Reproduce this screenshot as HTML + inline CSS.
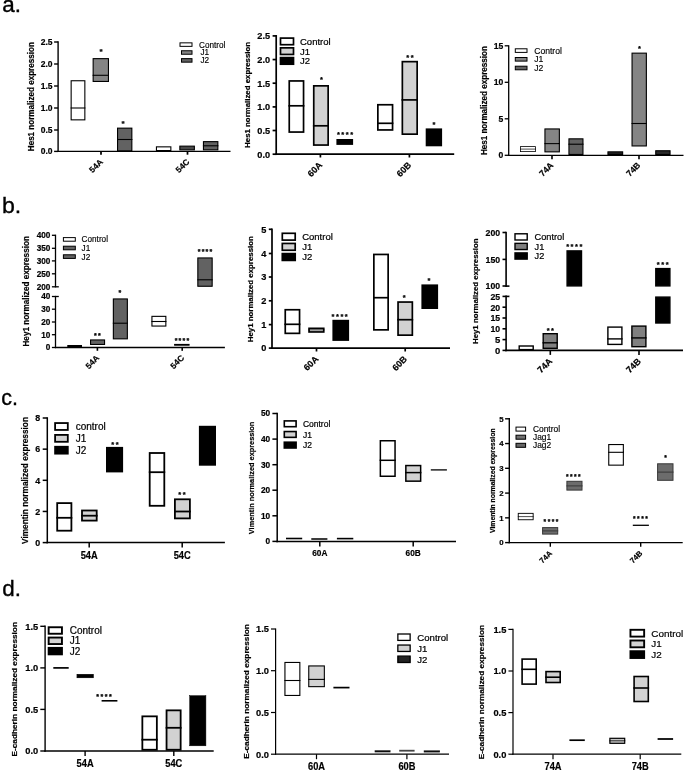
<!DOCTYPE html>
<html>
<head>
<meta charset="utf-8">
<title>Figure</title>
<style>
html, body { margin: 0; padding: 0; background: #fff; }
body { width: 685px; height: 771px; overflow: hidden; font-family: "Liberation Sans", sans-serif; }
svg text { font-family: "Liberation Sans", sans-serif; }
</style>
</head>
<body>
<svg width="685" height="771" viewBox="0 0 685 771" font-family="'Liberation Sans', sans-serif" style="display:block">
<defs><filter id="bl" x="0" y="0" width="100%" height="100%" filterUnits="userSpaceOnUse"><feGaussianBlur stdDeviation="0.65"/></filter></defs>
<rect x="0" y="0" width="685" height="771" fill="#fff"/>
<g filter="url(#bl)">
<line x1="58.1" y1="41.3" x2="58.1" y2="152.1" stroke="#000" stroke-width="1.4"/>
<line x1="57.4" y1="151.4" x2="230.5" y2="151.4" stroke="#000" stroke-width="1.4"/>
<line x1="54.1" y1="42" x2="58.1" y2="42" stroke="#000" stroke-width="1.4"/>
<text x="52.6" y="45.06" font-size="8.5" text-anchor="end" fill="#000" stroke="#000" stroke-width="0.2" font-weight="bold">2.5</text>
<line x1="54.1" y1="64" x2="58.1" y2="64" stroke="#000" stroke-width="1.4"/>
<text x="52.6" y="67.06" font-size="8.5" text-anchor="end" fill="#000" stroke="#000" stroke-width="0.2" font-weight="bold">2.0</text>
<line x1="54.1" y1="86" x2="58.1" y2="86" stroke="#000" stroke-width="1.4"/>
<text x="52.6" y="89.06" font-size="8.5" text-anchor="end" fill="#000" stroke="#000" stroke-width="0.2" font-weight="bold">1.5</text>
<line x1="54.1" y1="108" x2="58.1" y2="108" stroke="#000" stroke-width="1.4"/>
<text x="52.6" y="111.06" font-size="8.5" text-anchor="end" fill="#000" stroke="#000" stroke-width="0.2" font-weight="bold">1.0</text>
<line x1="54.1" y1="130" x2="58.1" y2="130" stroke="#000" stroke-width="1.4"/>
<text x="52.6" y="133.06" font-size="8.5" text-anchor="end" fill="#000" stroke="#000" stroke-width="0.2" font-weight="bold">0.5</text>
<line x1="54.1" y1="151.4" x2="58.1" y2="151.4" stroke="#000" stroke-width="1.4"/>
<text x="52.6" y="154.46" font-size="8.5" text-anchor="end" fill="#000" stroke="#000" stroke-width="0.2" font-weight="bold">0.0</text>
<line x1="101" y1="151.4" x2="101" y2="154.7" stroke="#000" stroke-width="1.75"/>
<text x="103.5" y="162.4" font-size="8.4" text-anchor="end" fill="#000" stroke="#000" stroke-width="0.2" font-weight="bold" transform="rotate(-45 103.5 162.4)">54A</text>
<line x1="187.5" y1="151.4" x2="187.5" y2="154.7" stroke="#000" stroke-width="1.75"/>
<text x="190" y="162.4" font-size="8.4" text-anchor="end" fill="#000" stroke="#000" stroke-width="0.2" font-weight="bold" transform="rotate(-45 190 162.4)">54C</text>
<text x="34.3" y="96.7" font-size="8.6" text-anchor="middle" fill="#000" stroke="#000" stroke-width="0.2" font-weight="bold" transform="rotate(-90 34.3 96.7)" textLength="109" lengthAdjust="spacingAndGlyphs">Hes1 normalized expression</text>
<rect x="71.15" y="80.75" width="13.7" height="39.1" fill="#fff" stroke="#000" stroke-width="1.1"/>
<line x1="70.6" y1="108" x2="85.4" y2="108" stroke="#000" stroke-width="1.1"/>
<rect x="93.15" y="58.65" width="15.3" height="22.8" fill="#858585" stroke="#000" stroke-width="1.1"/>
<line x1="92.6" y1="75.3" x2="109" y2="75.3" stroke="#000" stroke-width="1.1"/>
<rect x="117.55" y="128.15" width="14.3" height="22.7" fill="#626262" stroke="#000" stroke-width="1.1"/>
<line x1="117" y1="139.5" x2="132.4" y2="139.5" stroke="#000" stroke-width="1.1"/>
<rect x="156.45" y="146.85" width="14.4" height="3.7" fill="#fff" stroke="#000" stroke-width="1.1"/>
<rect x="179.85" y="146.15" width="14.5" height="3.7" fill="#4a4a4a" stroke="#000" stroke-width="1.1"/>
<rect x="203.45" y="141.65" width="14.4" height="8.2" fill="#626262" stroke="#000" stroke-width="1.1"/>
<line x1="202.9" y1="145.8" x2="218.4" y2="145.8" stroke="#000" stroke-width="1.1"/>
<rect x="180" y="42.85" width="12" height="3.5" fill="#fff" stroke="#000" stroke-width="1"/>
<text x="199" y="47.55" font-size="8.2" text-anchor="start" fill="#000" stroke="#000" stroke-width="0.15">Control</text>
<rect x="181.5" y="50.75" width="10.5" height="3.5" fill="#858585" stroke="#000" stroke-width="1"/>
<text x="200.5" y="55.45" font-size="8.2" text-anchor="start" fill="#000" stroke="#000" stroke-width="0.15">J1</text>
<rect x="181.5" y="58.65" width="10.5" height="3.5" fill="#626262" stroke="#000" stroke-width="1"/>
<text x="200.5" y="63.35" font-size="8.2" text-anchor="start" fill="#000" stroke="#000" stroke-width="0.15">J2</text>
<text x="101" y="54.44" font-size="8" text-anchor="middle" fill="#000" stroke="#000" stroke-width="0.25" font-weight="bold">*</text>
<text x="123" y="126.44" font-size="8" text-anchor="middle" fill="#000" stroke="#000" stroke-width="0.25" font-weight="bold">*</text>
<line x1="276.2" y1="35.05" x2="276.2" y2="155.05" stroke="#000" stroke-width="1.7"/>
<line x1="275.35" y1="154.2" x2="454.2" y2="154.2" stroke="#000" stroke-width="1.7"/>
<line x1="272.6" y1="35.9" x2="276.2" y2="35.9" stroke="#000" stroke-width="1.7"/>
<text x="270.1" y="39.21" font-size="9.2" text-anchor="end" fill="#000" stroke="#000" stroke-width="0.2" font-weight="bold">2.5</text>
<line x1="272.6" y1="59.56" x2="276.2" y2="59.56" stroke="#000" stroke-width="1.7"/>
<text x="270.1" y="62.87" font-size="9.2" text-anchor="end" fill="#000" stroke="#000" stroke-width="0.2" font-weight="bold">2.0</text>
<line x1="272.6" y1="83.2" x2="276.2" y2="83.2" stroke="#000" stroke-width="1.7"/>
<text x="270.1" y="86.51" font-size="9.2" text-anchor="end" fill="#000" stroke="#000" stroke-width="0.2" font-weight="bold">1.5</text>
<line x1="272.6" y1="106.9" x2="276.2" y2="106.9" stroke="#000" stroke-width="1.7"/>
<text x="270.1" y="110.21" font-size="9.2" text-anchor="end" fill="#000" stroke="#000" stroke-width="0.2" font-weight="bold">1.0</text>
<line x1="272.6" y1="130.5" x2="276.2" y2="130.5" stroke="#000" stroke-width="1.7"/>
<text x="270.1" y="133.81" font-size="9.2" text-anchor="end" fill="#000" stroke="#000" stroke-width="0.2" font-weight="bold">0.5</text>
<line x1="272.6" y1="154.2" x2="276.2" y2="154.2" stroke="#000" stroke-width="1.7"/>
<text x="270.1" y="157.51" font-size="9.2" text-anchor="end" fill="#000" stroke="#000" stroke-width="0.2" font-weight="bold">0.0</text>
<line x1="320.4" y1="154.2" x2="320.4" y2="157.5" stroke="#000" stroke-width="1.7"/>
<text x="322.9" y="165.7" font-size="9" text-anchor="end" fill="#000" stroke="#000" stroke-width="0.2" font-weight="bold" transform="rotate(-45 322.9 165.7)">60A</text>
<line x1="409.4" y1="154.2" x2="409.4" y2="157.5" stroke="#000" stroke-width="1.7"/>
<text x="411.9" y="165.7" font-size="9" text-anchor="end" fill="#000" stroke="#000" stroke-width="0.2" font-weight="bold" transform="rotate(-45 411.9 165.7)">60B</text>
<text x="250" y="94.9" font-size="8" text-anchor="middle" fill="#000" stroke="#000" stroke-width="0.2" font-weight="bold" transform="rotate(-90 250 94.9)" textLength="106" lengthAdjust="spacingAndGlyphs">Hes1 normalized expression</text>
<rect x="289.25" y="80.95" width="14.3" height="51.1" fill="#fff" stroke="#000" stroke-width="1.7"/>
<line x1="288.4" y1="105.8" x2="304.4" y2="105.8" stroke="#000" stroke-width="1.7"/>
<rect x="313.75" y="85.85" width="14.4" height="59.2" fill="#d2d2d2" stroke="#000" stroke-width="1.7"/>
<line x1="312.9" y1="125.8" x2="329" y2="125.8" stroke="#000" stroke-width="1.7"/>
<rect x="337.25" y="139.85" width="15" height="4.2" fill="#000" stroke="#000" stroke-width="1.7"/>
<rect x="377.85" y="104.75" width="14.7" height="25.2" fill="#fff" stroke="#000" stroke-width="1.7"/>
<line x1="377" y1="123.3" x2="393.4" y2="123.3" stroke="#000" stroke-width="1.7"/>
<rect x="402.35" y="61.65" width="14.8" height="72.5" fill="#d2d2d2" stroke="#000" stroke-width="1.7"/>
<line x1="401.5" y1="99.9" x2="418" y2="99.9" stroke="#000" stroke-width="1.7"/>
<rect x="426.55" y="129.25" width="14.7" height="16.2" fill="#000" stroke="#000" stroke-width="1.7"/>
<rect x="280.5" y="38.1" width="13" height="6.6" fill="#fff" stroke="#000" stroke-width="1.7"/>
<text x="300" y="44.82" font-size="9.5" text-anchor="start" fill="#000" stroke="#000" stroke-width="0.22">Control</text>
<rect x="280.5" y="47.85" width="13" height="6.6" fill="#d2d2d2" stroke="#000" stroke-width="1.7"/>
<text x="300" y="54.57" font-size="9.5" text-anchor="start" fill="#000" stroke="#000" stroke-width="0.22">J1</text>
<rect x="280.5" y="57.6" width="13" height="6.6" fill="#000" stroke="#000" stroke-width="1.7"/>
<text x="300" y="64.32" font-size="9.5" text-anchor="start" fill="#000" stroke="#000" stroke-width="0.22">J2</text>
<text x="322.15" y="82.02" font-size="7.5" text-anchor="middle" fill="#000" stroke="#000" stroke-width="0.25" font-weight="bold" letter-spacing="1.5">*</text>
<text x="345.75" y="136.72" font-size="7.5" text-anchor="middle" fill="#000" stroke="#000" stroke-width="0.25" font-weight="bold" letter-spacing="1.5">****</text>
<text x="410.75" y="60.23" font-size="7.5" text-anchor="middle" fill="#000" stroke="#000" stroke-width="0.25" font-weight="bold" letter-spacing="1.5">**</text>
<text x="434.75" y="127.22" font-size="7.5" text-anchor="middle" fill="#000" stroke="#000" stroke-width="0.25" font-weight="bold" letter-spacing="1.5">*</text>
<line x1="508.7" y1="45.15" x2="508.7" y2="155.95" stroke="#000" stroke-width="1.3"/>
<line x1="508.05" y1="155.3" x2="683.5" y2="155.3" stroke="#000" stroke-width="1.3"/>
<line x1="504.7" y1="45.8" x2="508.7" y2="45.8" stroke="#000" stroke-width="1.3"/>
<text x="503.2" y="48.9" font-size="8.6" text-anchor="end" fill="#000" stroke="#000" stroke-width="0.2" font-weight="bold">15</text>
<line x1="504.7" y1="82.3" x2="508.7" y2="82.3" stroke="#000" stroke-width="1.3"/>
<text x="503.2" y="85.4" font-size="8.6" text-anchor="end" fill="#000" stroke="#000" stroke-width="0.2" font-weight="bold">10</text>
<line x1="504.7" y1="118.8" x2="508.7" y2="118.8" stroke="#000" stroke-width="1.3"/>
<text x="503.2" y="121.9" font-size="8.6" text-anchor="end" fill="#000" stroke="#000" stroke-width="0.2" font-weight="bold">5</text>
<line x1="504.7" y1="155.3" x2="508.7" y2="155.3" stroke="#000" stroke-width="1.3"/>
<text x="503.2" y="158.4" font-size="8.6" text-anchor="end" fill="#000" stroke="#000" stroke-width="0.2" font-weight="bold">0</text>
<line x1="552" y1="155.3" x2="552" y2="159.3" stroke="#000" stroke-width="1.62"/>
<text x="554" y="165.8" font-size="8.6" text-anchor="end" fill="#000" stroke="#000" stroke-width="0.2" font-weight="bold" transform="rotate(-45 554 165.8)">74A</text>
<line x1="639" y1="155.3" x2="639" y2="159.3" stroke="#000" stroke-width="1.62"/>
<text x="641" y="165.8" font-size="8.6" text-anchor="end" fill="#000" stroke="#000" stroke-width="0.2" font-weight="bold" transform="rotate(-45 641 165.8)">74B</text>
<text x="486.8" y="100.6" font-size="8.8" text-anchor="middle" fill="#000" stroke="#000" stroke-width="0.2" font-weight="bold" transform="rotate(-90 486.8 100.6)" textLength="109" lengthAdjust="spacingAndGlyphs">Hes1 normalized expression</text>
<rect x="520.5" y="146.6" width="15" height="5" fill="#fff" stroke="#000" stroke-width="0.8"/>
<line x1="520.1" y1="149.1" x2="535.9" y2="149.1" stroke="#000" stroke-width="0.7"/>
<rect x="544.95" y="128.95" width="14.4" height="22.9" fill="#858585" stroke="#000" stroke-width="1.1"/>
<line x1="544.4" y1="143.6" x2="559.9" y2="143.6" stroke="#000" stroke-width="1.1"/>
<rect x="568.95" y="138.85" width="14" height="15.6" fill="#626262" stroke="#000" stroke-width="1.1"/>
<line x1="568.4" y1="144.2" x2="583.5" y2="144.2" stroke="#000" stroke-width="1.1"/>
<rect x="607.95" y="151.85" width="14.7" height="2.6" fill="#222" stroke="#000" stroke-width="1.1"/>
<rect x="632.05" y="53.15" width="14.3" height="92.8" fill="#858585" stroke="#000" stroke-width="1.1"/>
<line x1="631.5" y1="123.5" x2="646.9" y2="123.5" stroke="#000" stroke-width="1.1"/>
<rect x="655.75" y="150.75" width="14.3" height="3.7" fill="#2a2a2a" stroke="#000" stroke-width="1.1"/>
<rect x="515.3" y="48.8" width="11.7" height="3.6" fill="#fff" stroke="#000" stroke-width="1"/>
<text x="534.2" y="53.7" font-size="8.6" text-anchor="start" fill="#000" stroke="#000" stroke-width="0.15">Control</text>
<rect x="515.3" y="57.5" width="11.7" height="3.6" fill="#858585" stroke="#000" stroke-width="1"/>
<text x="534.2" y="62.4" font-size="8.6" text-anchor="start" fill="#000" stroke="#000" stroke-width="0.15">J1</text>
<rect x="515.3" y="66.2" width="11.7" height="3.6" fill="#626262" stroke="#000" stroke-width="1"/>
<text x="534.2" y="71.1" font-size="8.6" text-anchor="start" fill="#000" stroke="#000" stroke-width="0.15">J2</text>
<text x="639.4" y="50.73" font-size="7.5" text-anchor="middle" fill="#000" stroke="#000" stroke-width="0.25" font-weight="bold">*</text>
<line x1="55.5" y1="234.65" x2="55.5" y2="287.45" stroke="#000" stroke-width="1.3"/>
<line x1="55.5" y1="295.85" x2="55.5" y2="348.15" stroke="#000" stroke-width="1.3"/>
<line x1="55.5" y1="286.8" x2="58.8" y2="286.8" stroke="#000" stroke-width="1.3"/>
<line x1="55.5" y1="296.5" x2="58.8" y2="296.5" stroke="#000" stroke-width="1.3"/>
<line x1="54.85" y1="347.5" x2="224.9" y2="347.5" stroke="#000" stroke-width="1.3"/>
<line x1="51.9" y1="235.3" x2="55.5" y2="235.3" stroke="#000" stroke-width="1.3"/>
<text x="50.4" y="238.25" font-size="8.2" text-anchor="end" fill="#000" stroke="#000" stroke-width="0.2" font-weight="bold">400</text>
<line x1="51.9" y1="248.3" x2="55.5" y2="248.3" stroke="#000" stroke-width="1.3"/>
<text x="50.4" y="251.25" font-size="8.2" text-anchor="end" fill="#000" stroke="#000" stroke-width="0.2" font-weight="bold">350</text>
<line x1="51.9" y1="260.9" x2="55.5" y2="260.9" stroke="#000" stroke-width="1.3"/>
<text x="50.4" y="263.85" font-size="8.2" text-anchor="end" fill="#000" stroke="#000" stroke-width="0.2" font-weight="bold">300</text>
<line x1="51.9" y1="273.8" x2="55.5" y2="273.8" stroke="#000" stroke-width="1.3"/>
<text x="50.4" y="276.75" font-size="8.2" text-anchor="end" fill="#000" stroke="#000" stroke-width="0.2" font-weight="bold">250</text>
<line x1="51.9" y1="286.8" x2="55.5" y2="286.8" stroke="#000" stroke-width="1.3"/>
<text x="50.4" y="289.75" font-size="8.2" text-anchor="end" fill="#000" stroke="#000" stroke-width="0.2" font-weight="bold">200</text>
<line x1="51.9" y1="296.5" x2="55.5" y2="296.5" stroke="#000" stroke-width="1.3"/>
<text x="50.4" y="299.45" font-size="8.2" text-anchor="end" fill="#000" stroke="#000" stroke-width="0.2" font-weight="bold">40</text>
<line x1="51.9" y1="309.2" x2="55.5" y2="309.2" stroke="#000" stroke-width="1.3"/>
<text x="50.4" y="312.15" font-size="8.2" text-anchor="end" fill="#000" stroke="#000" stroke-width="0.2" font-weight="bold">30</text>
<line x1="51.9" y1="322" x2="55.5" y2="322" stroke="#000" stroke-width="1.3"/>
<text x="50.4" y="324.95" font-size="8.2" text-anchor="end" fill="#000" stroke="#000" stroke-width="0.2" font-weight="bold">20</text>
<line x1="51.9" y1="334.7" x2="55.5" y2="334.7" stroke="#000" stroke-width="1.3"/>
<text x="50.4" y="337.65" font-size="8.2" text-anchor="end" fill="#000" stroke="#000" stroke-width="0.2" font-weight="bold">10</text>
<line x1="51.9" y1="347.5" x2="55.5" y2="347.5" stroke="#000" stroke-width="1.3"/>
<text x="50.4" y="350.45" font-size="8.2" text-anchor="end" fill="#000" stroke="#000" stroke-width="0.2" font-weight="bold">0</text>
<line x1="97.4" y1="347.5" x2="97.4" y2="350.8" stroke="#000" stroke-width="1.62"/>
<text x="99.9" y="358.5" font-size="8.4" text-anchor="end" fill="#000" stroke="#000" stroke-width="0.2" font-weight="bold" transform="rotate(-45 99.9 358.5)">54A</text>
<line x1="182.2" y1="347.5" x2="182.2" y2="350.8" stroke="#000" stroke-width="1.62"/>
<text x="184.7" y="358.5" font-size="8.4" text-anchor="end" fill="#000" stroke="#000" stroke-width="0.2" font-weight="bold" transform="rotate(-45 184.7 358.5)">54C</text>
<text x="29" y="291.3" font-size="8.4" text-anchor="middle" fill="#000" stroke="#000" stroke-width="0.2" font-weight="bold" transform="rotate(-90 29 291.3)" textLength="110.5" lengthAdjust="spacingAndGlyphs">Hey1 normalized expression</text>
<rect x="67.85" y="345.55" width="13.6" height="0.9" fill="#000" stroke="#000" stroke-width="1.1"/>
<rect x="90.55" y="339.95" width="14" height="4.5" fill="#626262" stroke="#000" stroke-width="1.1"/>
<rect x="113.35" y="298.95" width="14" height="39.9" fill="#626262" stroke="#000" stroke-width="1.1"/>
<line x1="112.8" y1="323.2" x2="127.9" y2="323.2" stroke="#000" stroke-width="1.1"/>
<rect x="151.95" y="316.35" width="13.9" height="9.7" fill="#fff" stroke="#000" stroke-width="1.1"/>
<line x1="151.4" y1="321.5" x2="166.4" y2="321.5" stroke="#000" stroke-width="1.1"/>
<rect x="174.65" y="344.45" width="14.4" height="0.7" fill="#000" stroke="#000" stroke-width="1.1"/>
<rect x="197.85" y="257.95" width="14.3" height="28.3" fill="#626262" stroke="#000" stroke-width="1.1"/>
<line x1="197.3" y1="279.8" x2="212.7" y2="279.8" stroke="#000" stroke-width="1.1"/>
<rect x="63.4" y="237.6" width="11.9" height="3.6" fill="#fff" stroke="#000" stroke-width="1"/>
<text x="81.6" y="242.35" font-size="8.2" text-anchor="start" fill="#000" stroke="#000" stroke-width="0.15">Control</text>
<rect x="63.4" y="246.2" width="11.9" height="3.6" fill="#626262" stroke="#000" stroke-width="1"/>
<text x="81.6" y="250.95" font-size="8.2" text-anchor="start" fill="#000" stroke="#000" stroke-width="0.15">J1</text>
<rect x="63.4" y="254.8" width="11.9" height="3.6" fill="#626262" stroke="#000" stroke-width="1"/>
<text x="81.6" y="259.55" font-size="8.2" text-anchor="start" fill="#000" stroke="#000" stroke-width="0.15">J2</text>
<text x="98" y="337.81" font-size="7" text-anchor="middle" fill="#000" stroke="#000" stroke-width="0.25" font-weight="bold" letter-spacing="1.2">**</text>
<text x="120.4" y="295.41" font-size="7" text-anchor="middle" fill="#000" stroke="#000" stroke-width="0.25" font-weight="bold" letter-spacing="1.2">*</text>
<text x="182.5" y="343.41" font-size="7" text-anchor="middle" fill="#000" stroke="#000" stroke-width="0.25" font-weight="bold" letter-spacing="1.2">****</text>
<text x="205.6" y="254.01" font-size="7" text-anchor="middle" fill="#000" stroke="#000" stroke-width="0.25" font-weight="bold" letter-spacing="1.2">****</text>
<line x1="272" y1="228.45" x2="272" y2="349.05" stroke="#000" stroke-width="1.7"/>
<line x1="271.15" y1="348.2" x2="450" y2="348.2" stroke="#000" stroke-width="1.7"/>
<line x1="268.8" y1="229.3" x2="272" y2="229.3" stroke="#000" stroke-width="1.7"/>
<text x="266.3" y="232.61" font-size="9.2" text-anchor="end" fill="#000" stroke="#000" stroke-width="0.2" font-weight="bold">5</text>
<line x1="268.8" y1="253.5" x2="272" y2="253.5" stroke="#000" stroke-width="1.7"/>
<text x="266.3" y="256.81" font-size="9.2" text-anchor="end" fill="#000" stroke="#000" stroke-width="0.2" font-weight="bold">4</text>
<line x1="268.8" y1="277" x2="272" y2="277" stroke="#000" stroke-width="1.7"/>
<text x="266.3" y="280.31" font-size="9.2" text-anchor="end" fill="#000" stroke="#000" stroke-width="0.2" font-weight="bold">3</text>
<line x1="268.8" y1="300.8" x2="272" y2="300.8" stroke="#000" stroke-width="1.7"/>
<text x="266.3" y="304.11" font-size="9.2" text-anchor="end" fill="#000" stroke="#000" stroke-width="0.2" font-weight="bold">2</text>
<line x1="268.8" y1="324.6" x2="272" y2="324.6" stroke="#000" stroke-width="1.7"/>
<text x="266.3" y="327.91" font-size="9.2" text-anchor="end" fill="#000" stroke="#000" stroke-width="0.2" font-weight="bold">1</text>
<line x1="268.8" y1="348.1" x2="272" y2="348.1" stroke="#000" stroke-width="1.7"/>
<text x="266.3" y="351.41" font-size="9.2" text-anchor="end" fill="#000" stroke="#000" stroke-width="0.2" font-weight="bold">0</text>
<line x1="316.5" y1="348.2" x2="316.5" y2="351.5" stroke="#000" stroke-width="1.7"/>
<text x="319" y="359.7" font-size="9" text-anchor="end" fill="#000" stroke="#000" stroke-width="0.2" font-weight="bold" transform="rotate(-45 319 359.7)">60A</text>
<line x1="405.2" y1="348.2" x2="405.2" y2="351.5" stroke="#000" stroke-width="1.7"/>
<text x="407.7" y="359.7" font-size="9" text-anchor="end" fill="#000" stroke="#000" stroke-width="0.2" font-weight="bold" transform="rotate(-45 407.7 359.7)">60B</text>
<text x="253.1" y="289.2" font-size="8" text-anchor="middle" fill="#000" stroke="#000" stroke-width="0.2" font-weight="bold" transform="rotate(-90 253.1 289.2)" textLength="106" lengthAdjust="spacingAndGlyphs">Hey1 normalized expression</text>
<rect x="285.25" y="309.75" width="14.3" height="23.6" fill="#fff" stroke="#000" stroke-width="1.7"/>
<line x1="284.4" y1="324.3" x2="300.4" y2="324.3" stroke="#000" stroke-width="1.7"/>
<rect x="309.05" y="328.35" width="14.7" height="3.6" fill="#d2d2d2" stroke="#000" stroke-width="1.7"/>
<line x1="308.2" y1="329.9" x2="324.6" y2="329.9" stroke="#000" stroke-width="0.6"/>
<rect x="333.25" y="320.65" width="15" height="19.4" fill="#000" stroke="#000" stroke-width="1.7"/>
<rect x="373.85" y="254.45" width="14.3" height="75.4" fill="#fff" stroke="#000" stroke-width="1.7"/>
<line x1="373" y1="297.7" x2="389" y2="297.7" stroke="#000" stroke-width="1.7"/>
<rect x="398.05" y="302.05" width="14.3" height="33.1" fill="#d2d2d2" stroke="#000" stroke-width="1.7"/>
<line x1="397.2" y1="319.7" x2="413.2" y2="319.7" stroke="#000" stroke-width="1.7"/>
<rect x="422.25" y="285.25" width="15" height="22.9" fill="#000" stroke="#000" stroke-width="1.7"/>
<rect x="282.3" y="233.3" width="12.9" height="6.8" fill="#fff" stroke="#000" stroke-width="1.7"/>
<text x="302.2" y="240.12" font-size="9.5" text-anchor="start" fill="#000" stroke="#000" stroke-width="0.22">Control</text>
<rect x="282.3" y="243.45" width="12.9" height="6.8" fill="#d2d2d2" stroke="#000" stroke-width="1.7"/>
<text x="302.2" y="250.27" font-size="9.5" text-anchor="start" fill="#000" stroke="#000" stroke-width="0.22">J1</text>
<rect x="282.3" y="253.6" width="12.9" height="6.8" fill="#000" stroke="#000" stroke-width="1.7"/>
<text x="302.2" y="260.42" font-size="9.5" text-anchor="start" fill="#000" stroke="#000" stroke-width="0.22">J2</text>
<text x="340.45" y="318.73" font-size="7.5" text-anchor="middle" fill="#000" stroke="#000" stroke-width="0.25" font-weight="bold" letter-spacing="1.5">****</text>
<text x="404.85" y="299.53" font-size="7.5" text-anchor="middle" fill="#000" stroke="#000" stroke-width="0.25" font-weight="bold" letter-spacing="1.5">*</text>
<text x="429.75" y="283.33" font-size="7.5" text-anchor="middle" fill="#000" stroke="#000" stroke-width="0.25" font-weight="bold" letter-spacing="1.5">*</text>
<line x1="506.1" y1="231.7" x2="506.1" y2="286.9" stroke="#000" stroke-width="1.6"/>
<line x1="506.1" y1="295.6" x2="506.1" y2="351.2" stroke="#000" stroke-width="1.6"/>
<line x1="506.1" y1="286.1" x2="509.4" y2="286.1" stroke="#000" stroke-width="1.6"/>
<line x1="506.1" y1="296.4" x2="509.4" y2="296.4" stroke="#000" stroke-width="1.6"/>
<line x1="505.3" y1="350.4" x2="683" y2="350.4" stroke="#000" stroke-width="1.6"/>
<line x1="502.5" y1="232.5" x2="506.1" y2="232.5" stroke="#000" stroke-width="1.6"/>
<text x="500.2" y="235.92" font-size="9.5" text-anchor="end" fill="#000" stroke="#000" stroke-width="0.2" font-weight="bold" textLength="14.58" lengthAdjust="spacingAndGlyphs">200</text>
<line x1="502.5" y1="259.4" x2="506.1" y2="259.4" stroke="#000" stroke-width="1.6"/>
<text x="500.2" y="262.82" font-size="9.5" text-anchor="end" fill="#000" stroke="#000" stroke-width="0.2" font-weight="bold" textLength="14.58" lengthAdjust="spacingAndGlyphs">150</text>
<line x1="502.5" y1="286" x2="506.1" y2="286" stroke="#000" stroke-width="1.6"/>
<text x="500.2" y="289.42" font-size="9.5" text-anchor="end" fill="#000" stroke="#000" stroke-width="0.2" font-weight="bold" textLength="14.58" lengthAdjust="spacingAndGlyphs">100</text>
<line x1="502.5" y1="296.4" x2="506.1" y2="296.4" stroke="#000" stroke-width="1.6"/>
<text x="500.2" y="299.82" font-size="9.5" text-anchor="end" fill="#000" stroke="#000" stroke-width="0.2" font-weight="bold" textLength="9.72" lengthAdjust="spacingAndGlyphs">25</text>
<line x1="502.5" y1="307.2" x2="506.1" y2="307.2" stroke="#000" stroke-width="1.6"/>
<text x="500.2" y="310.62" font-size="9.5" text-anchor="end" fill="#000" stroke="#000" stroke-width="0.2" font-weight="bold" textLength="9.72" lengthAdjust="spacingAndGlyphs">20</text>
<line x1="502.5" y1="318" x2="506.1" y2="318" stroke="#000" stroke-width="1.6"/>
<text x="500.2" y="321.42" font-size="9.5" text-anchor="end" fill="#000" stroke="#000" stroke-width="0.2" font-weight="bold" textLength="9.72" lengthAdjust="spacingAndGlyphs">15</text>
<line x1="502.5" y1="328.8" x2="506.1" y2="328.8" stroke="#000" stroke-width="1.6"/>
<text x="500.2" y="332.22" font-size="9.5" text-anchor="end" fill="#000" stroke="#000" stroke-width="0.2" font-weight="bold" textLength="9.72" lengthAdjust="spacingAndGlyphs">10</text>
<line x1="502.5" y1="339.6" x2="506.1" y2="339.6" stroke="#000" stroke-width="1.6"/>
<text x="500.2" y="343.02" font-size="9.5" text-anchor="end" fill="#000" stroke="#000" stroke-width="0.2" font-weight="bold">5</text>
<line x1="502.5" y1="350.4" x2="506.1" y2="350.4" stroke="#000" stroke-width="1.6"/>
<text x="500.2" y="353.82" font-size="9.5" text-anchor="end" fill="#000" stroke="#000" stroke-width="0.2" font-weight="bold">0</text>
<line x1="550.3" y1="350.4" x2="550.3" y2="354.9" stroke="#000" stroke-width="1.6"/>
<text x="552.8" y="361.9" font-size="9" text-anchor="end" fill="#000" stroke="#000" stroke-width="0.2" font-weight="bold" transform="rotate(-45 552.8 361.9)">74A</text>
<line x1="639" y1="350.4" x2="639" y2="354.9" stroke="#000" stroke-width="1.6"/>
<text x="641.5" y="361.9" font-size="9" text-anchor="end" fill="#000" stroke="#000" stroke-width="0.2" font-weight="bold" transform="rotate(-45 641.5 361.9)">74B</text>
<text x="478.1" y="291.2" font-size="7.9" text-anchor="middle" fill="#000" stroke="#000" stroke-width="0.2" font-weight="bold" transform="rotate(-90 478.1 291.2)" textLength="105.5" lengthAdjust="spacingAndGlyphs">Hey1 normalized expression</text>
<rect x="519.2" y="346" width="14" height="3.6" fill="#fff" stroke="#000" stroke-width="1.4"/>
<rect x="543.2" y="333.7" width="14" height="14.6" fill="#808080" stroke="#000" stroke-width="1.4"/>
<line x1="542.5" y1="342.8" x2="557.9" y2="342.8" stroke="#000" stroke-width="1.4"/>
<rect x="567.1" y="250.9" width="14.4" height="35" fill="#000" stroke="#000" stroke-width="1.4"/>
<rect x="607.9" y="327.1" width="14" height="17.3" fill="#fff" stroke="#000" stroke-width="1.4"/>
<line x1="607.2" y1="338.9" x2="622.6" y2="338.9" stroke="#000" stroke-width="1.4"/>
<rect x="631.9" y="326.1" width="14" height="20.6" fill="#808080" stroke="#000" stroke-width="1.4"/>
<line x1="631.2" y1="337.9" x2="646.6" y2="337.9" stroke="#000" stroke-width="1.4"/>
<rect x="655.8" y="268.6" width="14.1" height="17.3" fill="#000" stroke="#000" stroke-width="1.4"/>
<rect x="655.8" y="297.1" width="14.1" height="25.9" fill="#000" stroke="#000" stroke-width="1.4"/>
<rect x="515" y="233.8" width="12.2" height="6.2" fill="#fff" stroke="#000" stroke-width="1.4"/>
<text x="534.6" y="240.21" font-size="9.2" text-anchor="start" fill="#000" stroke="#000" stroke-width="0.22">Control</text>
<rect x="515" y="243.35" width="12.2" height="6.2" fill="#808080" stroke="#000" stroke-width="1.4"/>
<text x="534.6" y="249.76" font-size="9.2" text-anchor="start" fill="#000" stroke="#000" stroke-width="0.22">J1</text>
<rect x="515" y="252.9" width="12.2" height="6.2" fill="#000" stroke="#000" stroke-width="1.4"/>
<text x="534.6" y="259.31" font-size="9.2" text-anchor="start" fill="#000" stroke="#000" stroke-width="0.22">J2</text>
<text x="551.05" y="332.93" font-size="7.5" text-anchor="middle" fill="#000" stroke="#000" stroke-width="0.25" font-weight="bold" letter-spacing="1.5">**</text>
<text x="575.05" y="249.12" font-size="7.5" text-anchor="middle" fill="#000" stroke="#000" stroke-width="0.25" font-weight="bold" letter-spacing="1.5">****</text>
<text x="663.45" y="266.53" font-size="7.5" text-anchor="middle" fill="#000" stroke="#000" stroke-width="0.25" font-weight="bold" letter-spacing="1.5">***</text>
<line x1="47.3" y1="417.25" x2="47.3" y2="543.35" stroke="#000" stroke-width="1.5"/>
<line x1="46.55" y1="542.6" x2="224.9" y2="542.6" stroke="#000" stroke-width="1.5"/>
<line x1="42.7" y1="418" x2="47.3" y2="418" stroke="#000" stroke-width="1.5"/>
<text x="40.3" y="421.2" font-size="8.9" text-anchor="end" fill="#000" stroke="#000" stroke-width="0.2" font-weight="bold">8</text>
<line x1="42.7" y1="449.15" x2="47.3" y2="449.15" stroke="#000" stroke-width="1.5"/>
<text x="40.3" y="452.35" font-size="8.9" text-anchor="end" fill="#000" stroke="#000" stroke-width="0.2" font-weight="bold">6</text>
<line x1="42.7" y1="480.3" x2="47.3" y2="480.3" stroke="#000" stroke-width="1.5"/>
<text x="40.3" y="483.5" font-size="8.9" text-anchor="end" fill="#000" stroke="#000" stroke-width="0.2" font-weight="bold">4</text>
<line x1="42.7" y1="511.45" x2="47.3" y2="511.45" stroke="#000" stroke-width="1.5"/>
<text x="40.3" y="514.65" font-size="8.9" text-anchor="end" fill="#000" stroke="#000" stroke-width="0.2" font-weight="bold">2</text>
<line x1="42.7" y1="542.6" x2="47.3" y2="542.6" stroke="#000" stroke-width="1.5"/>
<text x="40.3" y="545.8" font-size="8.9" text-anchor="end" fill="#000" stroke="#000" stroke-width="0.2" font-weight="bold">0</text>
<line x1="89.2" y1="542.6" x2="89.2" y2="547.6" stroke="#000" stroke-width="1.5"/>
<text x="89.2" y="558.9" font-size="10.2" text-anchor="middle" fill="#000" stroke="#000" stroke-width="0.2" font-weight="bold" textLength="17.02" lengthAdjust="spacingAndGlyphs">54A</text>
<line x1="182.2" y1="542.6" x2="182.2" y2="547.6" stroke="#000" stroke-width="1.5"/>
<text x="182.2" y="558.9" font-size="10.2" text-anchor="middle" fill="#000" stroke="#000" stroke-width="0.2" font-weight="bold" textLength="17.02" lengthAdjust="spacingAndGlyphs">54C</text>
<text x="27.5" y="480.5" font-size="8.8" text-anchor="middle" fill="#000" stroke="#000" stroke-width="0.2" font-weight="bold" transform="rotate(-90 27.5 480.5)" textLength="127" lengthAdjust="spacingAndGlyphs">Vimentin normalized expression</text>
<rect x="57.2" y="503.1" width="14.2" height="27.6" fill="#fff" stroke="#000" stroke-width="1.8"/>
<line x1="56.3" y1="517.8" x2="72.3" y2="517.8" stroke="#000" stroke-width="1.8"/>
<rect x="82" y="510.5" width="14.7" height="10.1" fill="#d2d2d2" stroke="#000" stroke-width="1.8"/>
<line x1="81.1" y1="515.7" x2="97.6" y2="515.7" stroke="#000" stroke-width="1.8"/>
<rect x="106.9" y="447.8" width="15.3" height="23.7" fill="#000" stroke="#000" stroke-width="1.8"/>
<rect x="149.7" y="453" width="14.6" height="52.8" fill="#fff" stroke="#000" stroke-width="1.8"/>
<line x1="148.8" y1="472.2" x2="165.2" y2="472.2" stroke="#000" stroke-width="1.8"/>
<rect x="174.9" y="499.3" width="15" height="19.1" fill="#d2d2d2" stroke="#000" stroke-width="1.8"/>
<line x1="174" y1="511.5" x2="190.8" y2="511.5" stroke="#000" stroke-width="1.8"/>
<rect x="199.8" y="426.7" width="15.3" height="38.1" fill="#000" stroke="#000" stroke-width="1.8"/>
<rect x="55.1" y="423.05" width="12.7" height="6.9" fill="#fff" stroke="#000" stroke-width="1.8"/>
<text x="75.7" y="430.1" font-size="10" text-anchor="start" fill="#000" stroke="#000" stroke-width="0.22">control</text>
<rect x="55.1" y="434.9" width="12.7" height="6.9" fill="#d2d2d2" stroke="#000" stroke-width="1.8"/>
<text x="75.7" y="441.95" font-size="10" text-anchor="start" fill="#000" stroke="#000" stroke-width="0.22">J1</text>
<rect x="55.1" y="446.75" width="12.7" height="6.9" fill="#000" stroke="#000" stroke-width="1.8"/>
<text x="75.7" y="453.8" font-size="10" text-anchor="start" fill="#000" stroke="#000" stroke-width="0.22">J2</text>
<text x="115.65" y="446.73" font-size="7.5" text-anchor="middle" fill="#000" stroke="#000" stroke-width="0.25" font-weight="bold" letter-spacing="1.5">**</text>
<text x="182.65" y="497.23" font-size="7.5" text-anchor="middle" fill="#000" stroke="#000" stroke-width="0.25" font-weight="bold" letter-spacing="1.5">**</text>
<line x1="277.2" y1="412.75" x2="277.2" y2="542.15" stroke="#000" stroke-width="1.5"/>
<line x1="276.45" y1="541.4" x2="456" y2="541.4" stroke="#000" stroke-width="1.5"/>
<line x1="272.4" y1="413.5" x2="277.2" y2="413.5" stroke="#000" stroke-width="1.5"/>
<text x="270.2" y="416.49" font-size="8.3" text-anchor="end" fill="#000" stroke="#000" stroke-width="0.2" font-weight="bold">50</text>
<line x1="272.4" y1="439.1" x2="277.2" y2="439.1" stroke="#000" stroke-width="1.5"/>
<text x="270.2" y="442.09" font-size="8.3" text-anchor="end" fill="#000" stroke="#000" stroke-width="0.2" font-weight="bold">40</text>
<line x1="272.4" y1="464.7" x2="277.2" y2="464.7" stroke="#000" stroke-width="1.5"/>
<text x="270.2" y="467.69" font-size="8.3" text-anchor="end" fill="#000" stroke="#000" stroke-width="0.2" font-weight="bold">30</text>
<line x1="272.4" y1="490.2" x2="277.2" y2="490.2" stroke="#000" stroke-width="1.5"/>
<text x="270.2" y="493.19" font-size="8.3" text-anchor="end" fill="#000" stroke="#000" stroke-width="0.2" font-weight="bold">20</text>
<line x1="272.4" y1="515.8" x2="277.2" y2="515.8" stroke="#000" stroke-width="1.5"/>
<text x="270.2" y="518.79" font-size="8.3" text-anchor="end" fill="#000" stroke="#000" stroke-width="0.2" font-weight="bold">10</text>
<line x1="272.4" y1="541.4" x2="277.2" y2="541.4" stroke="#000" stroke-width="1.5"/>
<text x="270.2" y="544.39" font-size="8.3" text-anchor="end" fill="#000" stroke="#000" stroke-width="0.2" font-weight="bold">0</text>
<line x1="319.8" y1="541.4" x2="319.8" y2="546.4" stroke="#000" stroke-width="1.5"/>
<text x="319.8" y="556.1" font-size="8.9" text-anchor="middle" fill="#000" stroke="#000" stroke-width="0.2" font-weight="bold" textLength="15.18" lengthAdjust="spacingAndGlyphs">60A</text>
<line x1="413.2" y1="541.4" x2="413.2" y2="546.4" stroke="#000" stroke-width="1.5"/>
<text x="413.2" y="556.1" font-size="8.9" text-anchor="middle" fill="#000" stroke="#000" stroke-width="0.2" font-weight="bold" textLength="15.18" lengthAdjust="spacingAndGlyphs">60B</text>
<text x="254" y="477.9" font-size="7.6" text-anchor="middle" fill="#000" stroke="#000" stroke-width="0.2" font-weight="bold" transform="rotate(-90 254 477.9)" textLength="112.5" lengthAdjust="spacingAndGlyphs">Vimentin normalized expression</text>
<line x1="286" y1="538.5" x2="302.2" y2="538.5" stroke="#000" stroke-width="1.6"/>
<line x1="311.3" y1="539" x2="327.4" y2="539" stroke="#1a1a1a" stroke-width="1.7"/>
<line x1="336.9" y1="538.6" x2="353.3" y2="538.6" stroke="#000" stroke-width="1.6"/>
<rect x="380.35" y="440.75" width="14.7" height="35.5" fill="#fff" stroke="#000" stroke-width="1.5"/>
<line x1="379.6" y1="460.3" x2="395.8" y2="460.3" stroke="#000" stroke-width="1.5"/>
<rect x="405.85" y="465.55" width="14.8" height="15.6" fill="#d2d2d2" stroke="#000" stroke-width="1.5"/>
<line x1="405.1" y1="472.6" x2="421.4" y2="472.6" stroke="#000" stroke-width="1.5"/>
<line x1="430.8" y1="469.9" x2="446.9" y2="469.9" stroke="#000" stroke-width="1.3"/>
<rect x="284.3" y="420.9" width="11.8" height="5.8" fill="#fff" stroke="#000" stroke-width="1.6"/>
<text x="302.9" y="426.86" font-size="8.5" text-anchor="start" fill="#000" stroke="#000" stroke-width="0.22">Control</text>
<rect x="284.3" y="431.55" width="11.8" height="5.8" fill="#d2d2d2" stroke="#000" stroke-width="1.6"/>
<text x="302.9" y="437.51" font-size="8.5" text-anchor="start" fill="#000" stroke="#000" stroke-width="0.22">J1</text>
<rect x="284.3" y="442.2" width="11.8" height="5.8" fill="#000" stroke="#000" stroke-width="1.6"/>
<text x="302.9" y="448.16" font-size="8.5" text-anchor="start" fill="#000" stroke="#000" stroke-width="0.22">J2</text>
<line x1="509.3" y1="418.1" x2="509.3" y2="543.3" stroke="#000" stroke-width="1.4"/>
<line x1="508.6" y1="542.6" x2="682.7" y2="542.6" stroke="#000" stroke-width="1.4"/>
<line x1="505.1" y1="418.8" x2="509.3" y2="418.8" stroke="#000" stroke-width="1.4"/>
<text x="503.5" y="421.61" font-size="7.8" text-anchor="end" fill="#000" stroke="#000" stroke-width="0.2" font-weight="bold">5</text>
<line x1="505.1" y1="443.55" x2="509.3" y2="443.55" stroke="#000" stroke-width="1.4"/>
<text x="503.5" y="446.36" font-size="7.8" text-anchor="end" fill="#000" stroke="#000" stroke-width="0.2" font-weight="bold">4</text>
<line x1="505.1" y1="468.3" x2="509.3" y2="468.3" stroke="#000" stroke-width="1.4"/>
<text x="503.5" y="471.11" font-size="7.8" text-anchor="end" fill="#000" stroke="#000" stroke-width="0.2" font-weight="bold">3</text>
<line x1="505.1" y1="493.1" x2="509.3" y2="493.1" stroke="#000" stroke-width="1.4"/>
<text x="503.5" y="495.91" font-size="7.8" text-anchor="end" fill="#000" stroke="#000" stroke-width="0.2" font-weight="bold">2</text>
<line x1="505.1" y1="517.85" x2="509.3" y2="517.85" stroke="#000" stroke-width="1.4"/>
<text x="503.5" y="520.66" font-size="7.8" text-anchor="end" fill="#000" stroke="#000" stroke-width="0.2" font-weight="bold">1</text>
<line x1="505.1" y1="542.6" x2="509.3" y2="542.6" stroke="#000" stroke-width="1.4"/>
<text x="503.5" y="545.41" font-size="7.8" text-anchor="end" fill="#000" stroke="#000" stroke-width="0.2" font-weight="bold">0</text>
<line x1="550.3" y1="542.6" x2="550.3" y2="546.8" stroke="#000" stroke-width="1.4"/>
<text x="552.6" y="553.9" font-size="7.7" text-anchor="end" fill="#000" stroke="#000" stroke-width="0.2" font-weight="bold" transform="rotate(-45 552.6 553.9)">74A</text>
<line x1="640.7" y1="542.6" x2="640.7" y2="546.8" stroke="#000" stroke-width="1.4"/>
<text x="643" y="553.9" font-size="7.7" text-anchor="end" fill="#000" stroke="#000" stroke-width="0.2" font-weight="bold" transform="rotate(-45 643 553.9)">74B</text>
<text x="495.2" y="480.7" font-size="7" text-anchor="middle" fill="#000" stroke="#000" stroke-width="0.2" font-weight="bold" transform="rotate(-90 495.2 480.7)" textLength="104.6" lengthAdjust="spacingAndGlyphs">Vimentin normalized expression</text>
<rect x="518.25" y="513.35" width="14.9" height="6.4" fill="#fff" stroke="#000" stroke-width="0.9"/>
<line x1="517.8" y1="516.6" x2="533.6" y2="516.6" stroke="#000" stroke-width="0.7"/>
<rect x="542.6" y="527.6" width="15.1" height="6.5" fill="#6c6c6c" stroke="#383838" stroke-width="1"/>
<line x1="542.1" y1="530.9" x2="558.2" y2="530.9" stroke="#383838" stroke-width="1"/>
<rect x="566.9" y="481.3" width="15.1" height="8.8" fill="#6c6c6c" stroke="#383838" stroke-width="1"/>
<line x1="566.4" y1="485.9" x2="582.5" y2="485.9" stroke="#383838" stroke-width="1"/>
<rect x="608.75" y="444.55" width="14.6" height="20.6" fill="#fff" stroke="#000" stroke-width="1.1"/>
<line x1="608.2" y1="452.3" x2="623.9" y2="452.3" stroke="#000" stroke-width="1.1"/>
<line x1="632.8" y1="525.3" x2="648.9" y2="525.3" stroke="#000" stroke-width="1.3"/>
<rect x="657.6" y="463.8" width="15.4" height="16.5" fill="#6c6c6c" stroke="#383838" stroke-width="1"/>
<line x1="657.1" y1="472.1" x2="673.5" y2="472.1" stroke="#383838" stroke-width="1"/>
<rect x="516" y="427.1" width="9.6" height="4" fill="#fff" stroke="#000" stroke-width="1"/>
<text x="533" y="432.12" font-size="8.4" text-anchor="start" fill="#000" stroke="#000" stroke-width="0.15">Control</text>
<rect x="516" y="435.2" width="9.6" height="4" fill="#707070" stroke="#000" stroke-width="1"/>
<text x="533" y="440.22" font-size="8.4" text-anchor="start" fill="#000" stroke="#000" stroke-width="0.15">Jag1</text>
<rect x="516" y="443.3" width="9.6" height="4" fill="#666" stroke="#000" stroke-width="1"/>
<text x="533" y="448.32" font-size="8.4" text-anchor="start" fill="#000" stroke="#000" stroke-width="0.15">Jag2</text>
<text x="551.75" y="524.04" font-size="6.6" text-anchor="middle" fill="#000" stroke="#000" stroke-width="0.25" font-weight="bold" letter-spacing="1.5">****</text>
<text x="574.05" y="478.64" font-size="6.6" text-anchor="middle" fill="#000" stroke="#000" stroke-width="0.25" font-weight="bold" letter-spacing="1.5">****</text>
<text x="641.15" y="521.34" font-size="6.6" text-anchor="middle" fill="#000" stroke="#000" stroke-width="0.25" font-weight="bold" letter-spacing="1.5">****</text>
<text x="666.35" y="459.94" font-size="6.6" text-anchor="middle" fill="#000" stroke="#000" stroke-width="0.25" font-weight="bold" letter-spacing="1.5">*</text>
<line x1="45.1" y1="625.6" x2="45.1" y2="751.7" stroke="#000" stroke-width="1.4"/>
<line x1="44.4" y1="751" x2="213.7" y2="751" stroke="#000" stroke-width="1.4"/>
<line x1="40.3" y1="626.3" x2="45.1" y2="626.3" stroke="#000" stroke-width="1.4"/>
<text x="38.3" y="629.65" font-size="9.3" text-anchor="end" fill="#000" stroke="#000" stroke-width="0.2" font-weight="bold">1.5</text>
<line x1="40.3" y1="667.9" x2="45.1" y2="667.9" stroke="#000" stroke-width="1.4"/>
<text x="38.3" y="671.25" font-size="9.3" text-anchor="end" fill="#000" stroke="#000" stroke-width="0.2" font-weight="bold">1.0</text>
<line x1="40.3" y1="709.4" x2="45.1" y2="709.4" stroke="#000" stroke-width="1.4"/>
<text x="38.3" y="712.75" font-size="9.3" text-anchor="end" fill="#000" stroke="#000" stroke-width="0.2" font-weight="bold">0.5</text>
<line x1="40.3" y1="751" x2="45.1" y2="751" stroke="#000" stroke-width="1.4"/>
<text x="38.3" y="754.35" font-size="9.3" text-anchor="end" fill="#000" stroke="#000" stroke-width="0.2" font-weight="bold">0.0</text>
<line x1="85.1" y1="751" x2="85.1" y2="756" stroke="#000" stroke-width="1.4"/>
<text x="85.1" y="766.8" font-size="10.2" text-anchor="middle" fill="#000" stroke="#000" stroke-width="0.2" font-weight="bold" textLength="17.02" lengthAdjust="spacingAndGlyphs">54A</text>
<line x1="173.8" y1="751" x2="173.8" y2="756" stroke="#000" stroke-width="1.4"/>
<text x="173.8" y="766.8" font-size="10.2" text-anchor="middle" fill="#000" stroke="#000" stroke-width="0.2" font-weight="bold" textLength="17.02" lengthAdjust="spacingAndGlyphs">54C</text>
<text x="16.8" y="689.3" font-size="8.1" text-anchor="middle" fill="#000" stroke="#000" stroke-width="0.2" font-weight="bold" transform="rotate(-90 16.8 689.3)" textLength="134.5" lengthAdjust="spacingAndGlyphs">E-cadherin normalized expression</text>
<line x1="53.3" y1="667.9" x2="68.7" y2="667.9" stroke="#000" stroke-width="1.7"/>
<rect x="77.05" y="674.55" width="16.2" height="3.1" fill="#000" stroke="#000" stroke-width="0.8"/>
<line x1="101.6" y1="700.8" x2="117.4" y2="700.8" stroke="#000" stroke-width="1.6"/>
<rect x="142.35" y="716.35" width="14.5" height="33.4" fill="#fff" stroke="#000" stroke-width="1.8"/>
<line x1="141.45" y1="739.7" x2="157.75" y2="739.7" stroke="#000" stroke-width="1.8"/>
<rect x="166.55" y="710.35" width="14.1" height="39.4" fill="#d2d2d2" stroke="#000" stroke-width="1.8"/>
<line x1="165.65" y1="727.8" x2="181.55" y2="727.8" stroke="#000" stroke-width="1.8"/>
<rect x="189.7" y="695.7" width="16.2" height="50.1" fill="#000" stroke="#000" stroke-width="0.5"/>
<rect x="48.65" y="627.25" width="13.3" height="6.5" fill="#fff" stroke="#000" stroke-width="1.9"/>
<text x="69.7" y="634.1" font-size="10" text-anchor="start" fill="#000" stroke="#000" stroke-width="0.22">Control</text>
<rect x="48.65" y="637.55" width="13.3" height="6.5" fill="#d2d2d2" stroke="#000" stroke-width="1.9"/>
<text x="69.7" y="644.4" font-size="10" text-anchor="start" fill="#000" stroke="#000" stroke-width="0.22">J1</text>
<rect x="48.65" y="647.85" width="13.3" height="6.5" fill="#000" stroke="#000" stroke-width="1.9"/>
<text x="69.7" y="654.7" font-size="10" text-anchor="start" fill="#000" stroke="#000" stroke-width="0.22">J2</text>
<text x="104.8" y="698.71" font-size="7" text-anchor="middle" fill="#000" stroke="#000" stroke-width="0.25" font-weight="bold" letter-spacing="1.6">****</text>
<line x1="275.6" y1="628.4" x2="275.6" y2="754.8" stroke="#000" stroke-width="1.2"/>
<line x1="275" y1="754.2" x2="449" y2="754.2" stroke="#000" stroke-width="1.2"/>
<line x1="271" y1="629" x2="275.6" y2="629" stroke="#000" stroke-width="1.2"/>
<text x="269" y="632.35" font-size="9.3" text-anchor="end" fill="#000" stroke="#000" stroke-width="0.2" font-weight="bold">1.5</text>
<line x1="271" y1="670.7" x2="275.6" y2="670.7" stroke="#000" stroke-width="1.2"/>
<text x="269" y="674.05" font-size="9.3" text-anchor="end" fill="#000" stroke="#000" stroke-width="0.2" font-weight="bold">1.0</text>
<line x1="271" y1="712.5" x2="275.6" y2="712.5" stroke="#000" stroke-width="1.2"/>
<text x="269" y="715.85" font-size="9.3" text-anchor="end" fill="#000" stroke="#000" stroke-width="0.2" font-weight="bold">0.5</text>
<line x1="271" y1="754.2" x2="275.6" y2="754.2" stroke="#000" stroke-width="1.2"/>
<text x="269" y="757.55" font-size="9.3" text-anchor="end" fill="#000" stroke="#000" stroke-width="0.2" font-weight="bold">0.0</text>
<line x1="316.5" y1="754.2" x2="316.5" y2="759.2" stroke="#000" stroke-width="1.2"/>
<text x="316.5" y="770" font-size="10.2" text-anchor="middle" fill="#000" stroke="#000" stroke-width="0.2" font-weight="bold" textLength="17.02" lengthAdjust="spacingAndGlyphs">60A</text>
<line x1="406.9" y1="754.2" x2="406.9" y2="759.2" stroke="#000" stroke-width="1.2"/>
<text x="406.9" y="770" font-size="10.2" text-anchor="middle" fill="#000" stroke="#000" stroke-width="0.2" font-weight="bold" textLength="17.02" lengthAdjust="spacingAndGlyphs">60B</text>
<text x="248.9" y="691.5" font-size="8.1" text-anchor="middle" fill="#000" stroke="#000" stroke-width="0.2" font-weight="bold" transform="rotate(-90 248.9 691.5)" textLength="134.6" lengthAdjust="spacingAndGlyphs">E-cadherin normalized expression</text>
<rect x="284.95" y="662.45" width="14.9" height="33" fill="#fff" stroke="#000" stroke-width="1.1"/>
<line x1="284.4" y1="680.5" x2="300.4" y2="680.5" stroke="#000" stroke-width="1.1"/>
<rect x="308.75" y="665.95" width="15.6" height="20.7" fill="#d2d2d2" stroke="#000" stroke-width="1.1"/>
<line x1="308.2" y1="679.4" x2="324.9" y2="679.4" stroke="#000" stroke-width="1.1"/>
<line x1="333.4" y1="687.6" x2="349.5" y2="687.6" stroke="#000" stroke-width="1.7"/>
<line x1="374.7" y1="751.3" x2="390.5" y2="751.3" stroke="#111" stroke-width="2"/>
<line x1="399.2" y1="750.7" x2="414.6" y2="750.7" stroke="#444" stroke-width="1.8"/>
<line x1="423.8" y1="751.4" x2="439.9" y2="751.4" stroke="#111" stroke-width="2"/>
<rect x="397.85" y="634" width="12.3" height="6.4" fill="#fff" stroke="#000" stroke-width="1.3"/>
<text x="417.3" y="640.66" font-size="9.6" text-anchor="start" fill="#000" stroke="#000" stroke-width="0.22">Control</text>
<rect x="397.85" y="645.05" width="12.3" height="6.4" fill="#d2d2d2" stroke="#000" stroke-width="1.3"/>
<text x="417.3" y="651.71" font-size="9.6" text-anchor="start" fill="#000" stroke="#000" stroke-width="0.22">J1</text>
<rect x="397.85" y="656.1" width="12.3" height="6.4" fill="#222" stroke="#000" stroke-width="1.3"/>
<text x="417.3" y="662.76" font-size="9.6" text-anchor="start" fill="#000" stroke="#000" stroke-width="0.22">J2</text>
<line x1="513" y1="628.8" x2="513" y2="754.8" stroke="#000" stroke-width="1.2"/>
<line x1="512.4" y1="754.2" x2="681.3" y2="754.2" stroke="#000" stroke-width="1.2"/>
<line x1="508.4" y1="629.4" x2="513" y2="629.4" stroke="#000" stroke-width="1.2"/>
<text x="506.4" y="632.75" font-size="9.3" text-anchor="end" fill="#000" stroke="#000" stroke-width="0.2" font-weight="bold">1.5</text>
<line x1="508.4" y1="671" x2="513" y2="671" stroke="#000" stroke-width="1.2"/>
<text x="506.4" y="674.35" font-size="9.3" text-anchor="end" fill="#000" stroke="#000" stroke-width="0.2" font-weight="bold">1.0</text>
<line x1="508.4" y1="712.6" x2="513" y2="712.6" stroke="#000" stroke-width="1.2"/>
<text x="506.4" y="715.95" font-size="9.3" text-anchor="end" fill="#000" stroke="#000" stroke-width="0.2" font-weight="bold">0.5</text>
<line x1="508.4" y1="754.2" x2="513" y2="754.2" stroke="#000" stroke-width="1.2"/>
<text x="506.4" y="757.55" font-size="9.3" text-anchor="end" fill="#000" stroke="#000" stroke-width="0.2" font-weight="bold">0.0</text>
<line x1="553" y1="754.2" x2="553" y2="759.2" stroke="#000" stroke-width="1.2"/>
<text x="553" y="769.8" font-size="10.2" text-anchor="middle" fill="#000" stroke="#000" stroke-width="0.2" font-weight="bold" textLength="17.02" lengthAdjust="spacingAndGlyphs">74A</text>
<line x1="640.2" y1="754.2" x2="640.2" y2="759.2" stroke="#000" stroke-width="1.2"/>
<text x="640.2" y="769.8" font-size="10.2" text-anchor="middle" fill="#000" stroke="#000" stroke-width="0.2" font-weight="bold" textLength="17.02" lengthAdjust="spacingAndGlyphs">74B</text>
<text x="483.8" y="692.1" font-size="8.1" text-anchor="middle" fill="#000" stroke="#000" stroke-width="0.2" font-weight="bold" transform="rotate(-90 483.8 692.1)" textLength="134.2" lengthAdjust="spacingAndGlyphs">E-cadherin normalized expression</text>
<rect x="522.1" y="659.1" width="14.1" height="25" fill="#fff" stroke="#000" stroke-width="1.6"/>
<line x1="521.3" y1="669.3" x2="537" y2="669.3" stroke="#000" stroke-width="1.6"/>
<rect x="546" y="671.6" width="14.2" height="10.9" fill="#d2d2d2" stroke="#000" stroke-width="1.6"/>
<line x1="545.2" y1="677.2" x2="561" y2="677.2" stroke="#000" stroke-width="1.6"/>
<line x1="569.4" y1="740.2" x2="584.8" y2="740.2" stroke="#000" stroke-width="1.7"/>
<rect x="609.9" y="738.3" width="14.8" height="5" fill="#c8c8c8" stroke="#000" stroke-width="1.2"/>
<line x1="609.3" y1="740.8" x2="625.3" y2="740.8" stroke="#000" stroke-width="0.8"/>
<rect x="634.1" y="676.5" width="14.2" height="25" fill="#d2d2d2" stroke="#000" stroke-width="1.6"/>
<line x1="633.3" y1="688" x2="649.1" y2="688" stroke="#000" stroke-width="1.6"/>
<line x1="657.6" y1="739" x2="673.1" y2="739" stroke="#000" stroke-width="1.75"/>
<rect x="630.45" y="629.8" width="13.7" height="6.8" fill="#fff" stroke="#000" stroke-width="1.9"/>
<text x="651.3" y="636.76" font-size="9.9" text-anchor="start" fill="#000" stroke="#000" stroke-width="0.2">Control</text>
<rect x="630.45" y="640.5" width="13.7" height="6.8" fill="#d2d2d2" stroke="#000" stroke-width="1.9"/>
<text x="651.3" y="647.46" font-size="9.9" text-anchor="start" fill="#000" stroke="#000" stroke-width="0.2">J1</text>
<rect x="630.45" y="651.2" width="13.7" height="6.8" fill="#000" stroke="#000" stroke-width="1.9"/>
<text x="651.3" y="658.16" font-size="9.9" text-anchor="start" fill="#000" stroke="#000" stroke-width="0.2">J2</text>
<text x="2.2" y="12.3" font-size="21.5" text-anchor="start" fill="#000" stroke="#000" stroke-width="0.35" textLength="18.7" lengthAdjust="spacingAndGlyphs">a.</text>
<text x="2" y="212.6" font-size="22.8" text-anchor="start" fill="#000" stroke="#000" stroke-width="0.35" textLength="19.3" lengthAdjust="spacingAndGlyphs">b.</text>
<text x="1.3" y="405.4" font-size="21.5" text-anchor="start" fill="#000" stroke="#000" stroke-width="0.35" textLength="16.7" lengthAdjust="spacingAndGlyphs">c.</text>
<text x="2.2" y="596.2" font-size="22.3" text-anchor="start" fill="#000" stroke="#000" stroke-width="0.35" textLength="18.7" lengthAdjust="spacingAndGlyphs">d.</text>
</g>
</svg>
</body>
</html>
